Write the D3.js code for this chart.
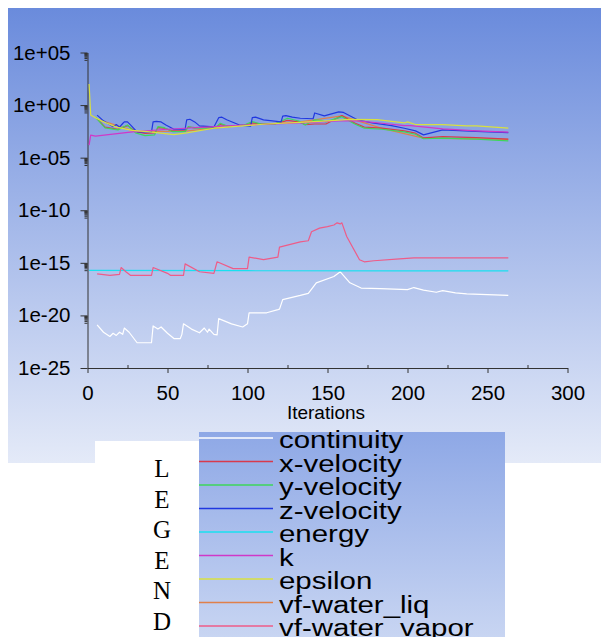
<!DOCTYPE html>
<html>
<head>
<meta charset="utf-8">
<script src="https://cdn.jsdelivr.net/npm/d3@7"></script>
<style>
  body { margin: 0; background: #fff; }
</style>
</head>
<body>
<svg id="chart" width="601" height="637"></svg>
<script>
// residual series: [iteration, log10(residual)]
var continuity = [[6,-20.9],[10,-21.6],[14,-22.0],[16,-21.7],[18,-21.9],[20,-21.6],[22,-21.8],[23,-21.2],[26,-21.6],[31,-22.6],[40,-22.6],[41,-21.0],[44,-21.3],[46,-21.1],[50,-21.7],[54,-22.2],[58,-22.2],[59,-21.8],[60,-20.8],[65,-21.3],[70,-21.65],[73,-21.2],[75,-21.6],[76,-21.3],[79,-21.8],[81,-21.85],[82,-20.3],[90,-20.8],[97,-21.1],[100,-20.8],[101,-19.75],[112,-19.75],[119,-19.45],[120,-19.4],[122,-18.5],[133,-18.1],[138,-17.9],[141,-17.3],[143,-16.9],[154,-16.3],[158,-15.85],[164,-16.9],[171,-17.4],[183,-17.45],[200,-17.55],[204,-17.35],[210,-17.6],[218,-17.8],[222,-17.65],[230,-17.85],[237,-17.95],[263,-18.1]];
var xVelocity = [[6,-1.3],[11,-2.1],[19,-2.3],[25,-1.95],[30,-2.5],[36,-2.7],[42,-2.65],[44,-2.15],[48,-2.2],[53,-2.45],[61,-2.45],[63,-2.1],[67,-2.15],[73,-2.12],[80,-2.1],[83,-1.85],[88,-2.0],[98,-1.9],[103,-1.7],[109,-1.8],[117,-1.78],[125,-1.45],[132,-1.6],[136,-1.85],[142,-1.8],[149,-1.8],[159,-1.0],[167,-1.7],[173,-2.1],[184,-2.2],[198,-2.45],[205,-2.67],[210,-3.12],[222,-3.0],[243,-3.09],[263,-3.24]];
var yVelocity = [[5,-1.15],[11,-2.17],[19,-2.36],[25,-1.89],[30,-2.64],[36,-2.9],[42,-2.83],[44,-2.05],[48,-2.15],[53,-2.52],[61,-2.52],[63,-2.05],[67,-2.2],[73,-2.2],[80,-2.15],[83,-1.73],[88,-2.05],[98,-1.9],[103,-1.57],[109,-1.82],[117,-1.82],[125,-1.25],[132,-1.51],[136,-1.89],[142,-1.41],[146,-1.45],[149,-1.6],[159,-1.1],[167,-1.8],[173,-2.2],[184,-2.3],[198,-2.55],[205,-2.77],[210,-3.2],[222,-3.15],[243,-3.24],[263,-3.4]];
var zVelocity = [[6,-0.95],[10,-1.5],[16,-2.05],[18,-1.85],[20,-2.1],[22,-1.75],[23,-1.6],[25,-1.6],[27,-1.9],[31,-2.55],[40,-2.55],[41,-1.6],[43,-1.55],[46,-1.6],[49,-1.9],[54,-2.3],[61,-2.3],[62,-1.4],[64,-1.35],[67,-1.6],[70,-1.98],[79,-2.08],[82,-1.2],[84,-1.15],[87,-1.4],[95,-1.9],[102,-2.0],[103,-1.2],[105,-1.15],[110,-1.4],[121,-1.6],[122,-1.05],[124,-1.0],[128,-1.15],[133,-1.25],[141,-1.3],[142,-0.75],[148,-1.03],[157,-0.65],[160,-0.7],[169,-1.41],[178,-1.7],[190,-1.95],[198,-2.2],[205,-2.45],[210,-2.83],[222,-2.36],[243,-2.5],[263,-2.62]];
var energy = [[1,-15.72],[100,-15.75],[200,-15.76],[263,-15.76]];
var kTurb = [[1,-3.8],[2,-2.85],[5,-2.95],[28,-2.55],[50,-2.3],[91,-1.95],[133,-1.7],[157,-1.5],[169,-1.5],[184,-1.73],[198,-1.95],[202,-1.95],[222,-2.27],[243,-2.45],[263,-2.58]];
var epsilon = [[1,2.0],[2,-0.95],[5,-1.2],[8,-1.45],[18,-2.1],[28,-2.4],[39,-2.55],[54,-2.8],[62,-2.65],[79,-2.2],[95,-2.0],[112,-1.8],[133,-1.65],[150,-1.5],[164,-1.35],[181,-1.38],[198,-1.7],[200,-1.6],[205,-1.85],[222,-1.85],[237,-1.98],[243,-1.98],[263,-2.2]];
var vfWaterLiq = [[6,-1.32],[30,-2.52],[61,-2.47],[98,-1.92],[132,-1.62],[159,-1.02],[184,-2.22],[210,-3.14],[263,-3.26]];
var vfWaterVapor = [[6,-16.05],[14,-16.2],[20,-16.1],[21,-15.45],[24,-15.85],[27,-16.2],[40,-16.2],[41,-15.45],[50,-16.0],[52,-16.2],[60,-16.2],[61,-15.1],[70,-15.85],[79,-16.0],[81,-14.9],[91,-15.55],[100,-15.55],[101,-14.45],[110,-14.7],[119,-14.45],[120,-13.5],[133,-13.0],[138,-12.9],[140,-12.05],[145,-11.7],[150,-11.55],[154,-11.4],[156,-11.2],[158,-11.3],[159,-11.2],[162,-12.5],[170,-14.7],[173,-14.9],[179,-14.8],[195,-14.62],[204,-14.52],[263,-14.52]];

var seriesNames = ["continuity","x-velocity","y-velocity","z-velocity","energy","k","epsilon","vf-water_liq","vf-water_vapor"];
var seriesData = [continuity, xVelocity, yVelocity, zVelocity, energy, kTurb, epsilon, vfWaterLiq, vfWaterVapor];
var seriesColors = ["#ffffff","#d83a4c","#3ed65a","#2038e0","#18e0f0","#d038c8","#d8e040","#e0804a","#ee5c88"];
var drawOrder = [7, 0, 4, 8, 1, 2, 3, 5, 6];

var xTicks = [0, 50, 100, 150, 200, 250, 300];
var xMinorTicks = [25, 75, 125, 175, 225, 275];
var yExponents = [5, 0, -5, -10, -15, -20, -25];
var legendLetters = ["L","E","G","E","N","D"];

const sans = "'Liberation Sans', Arial, sans-serif";
const serif = "'Liberation Serif', 'Times New Roman', serif";
const svg = d3.select("#chart");

// backgrounds
const defs = svg.append("defs");
const g1 = defs.append("linearGradient").attr("id", "bgMain").attr("x1", 0).attr("y1", 0).attr("x2", 0).attr("y2", 1);
g1.append("stop").attr("offset", "0%").attr("stop-color", "#6a8bdc");
g1.append("stop").attr("offset", "100%").attr("stop-color", "#e4eaf8");
const g2 = defs.append("linearGradient").attr("id", "bgLegend").attr("x1", 0).attr("y1", 0).attr("x2", 0).attr("y2", 1);
g2.append("stop").attr("offset", "0%").attr("stop-color", "#8ea8e6");
g2.append("stop").attr("offset", "100%").attr("stop-color", "#c8d5f2");

svg.append("rect").attr("x", 8).attr("y", 8).attr("width", 593).attr("height", 455).attr("fill", "url(#bgMain)");

// Scales
const x = d3.scaleLinear().domain([0, 300]).range([87.5, 567.5]);
const y = d3.scaleLog().domain([1e-25, 1e5]).range([368, 52.5]);

const fmt = function(d) {
  const e = Math.round(Math.log10(d));
  return "1e" + (e >= 0 ? "+" : "-") + String(Math.abs(e)).padStart(2, "0");
};

// minor ticks of the log axis (2..9 x 10^(e-1) under each labelled decade)
var yMinor = [];
yExponents.forEach(function(e) {
  if (e === -25) return;
  for (var k = 2; k <= 9; k++) yMinor.push(k * Math.pow(10, e - 1));
});

svg.append("g").attr("transform", "translate(87.5,0)")
  .call(d3.axisLeft(y).tickValues(yExponents.map(function(e){ return Math.pow(10, e); }))
    .tickFormat(fmt).tickSize(7).tickPadding(10).tickSizeOuter(0));
svg.append("g").attr("transform", "translate(87.5,0)")
  .call(d3.axisLeft(y).tickValues(yMinor).tickFormat("").tickSize(3).tickSizeOuter(0))
  .select(".domain").remove();

svg.append("g").attr("transform", "translate(0,368)")
  .call(d3.axisBottom(x).tickValues(xTicks).tickSize(5).tickPadding(12).tickSizeOuter(0));
svg.append("g").attr("transform", "translate(0,368)")
  .call(d3.axisTop(x).tickValues(xMinorTicks).tickFormat("").tickSize(3).tickSizeOuter(0))
  .select(".domain").remove();

svg.selectAll(".tick line, .domain").attr("stroke", "#333");
svg.selectAll(".tick text").attr("fill", "#000")
  .style("font-size", "20.5px").style("font-family", sans);

svg.append("text").attr("x", 326).attr("y", 419).attr("text-anchor", "middle")
  .style("font-family", sans).style("font-size", "19px").text("Iterations");

// residual lines
const line = d3.line()
  .x(function(d){ return x(d[0]); })
  .y(function(d){ return y(Math.pow(10, d[1])); });

svg.append("g").selectAll("path")
  .data(drawOrder)
  .enter()
  .append("path")
    .attr("d", function(i){ return line(seriesData[i]); })
    .attr("fill", "none")
    .attr("stroke", function(i){ return seriesColors[i]; })
    .attr("stroke-width", 1.2)
    .attr("stroke-linejoin", "round");

// legend
svg.append("rect").attr("x", 95).attr("y", 441).attr("width", 104).attr("height", 196).attr("fill", "#fff");
svg.append("rect").attr("x", 199).attr("y", 432).attr("width", 306).attr("height", 205).attr("fill", "url(#bgLegend)");

svg.append("g").selectAll("text")
  .data(legendLetters)
  .enter()
  .append("text")
    .attr("x", 162)
    .attr("y", function(d, i){ return 477 + i * 30.5; })
    .attr("text-anchor", "middle")
    .style("font-family", serif)
    .style("font-size", "25px")
    .text(function(d){ return d; });

const leg = svg.append("g").selectAll("g")
  .data(seriesNames)
  .enter()
  .append("g")
    .attr("transform", function(d, i){ return "translate(0," + (438 + i * 23.5) + ")"; });
leg.append("line").attr("x1", 199).attr("x2", 273).attr("y1", 0).attr("y2", 0)
  .attr("stroke", function(d, i){ return seriesColors[i]; }).attr("stroke-width", 1.6);
leg.append("text")
  .attr("transform", "translate(279,10) scale(1.28,1)")
  .style("font-family", sans)
  .style("font-size", "23px")
  .attr("fill", "#000")
  .text(function(d){ return d; });
</script>
</body>
</html>
